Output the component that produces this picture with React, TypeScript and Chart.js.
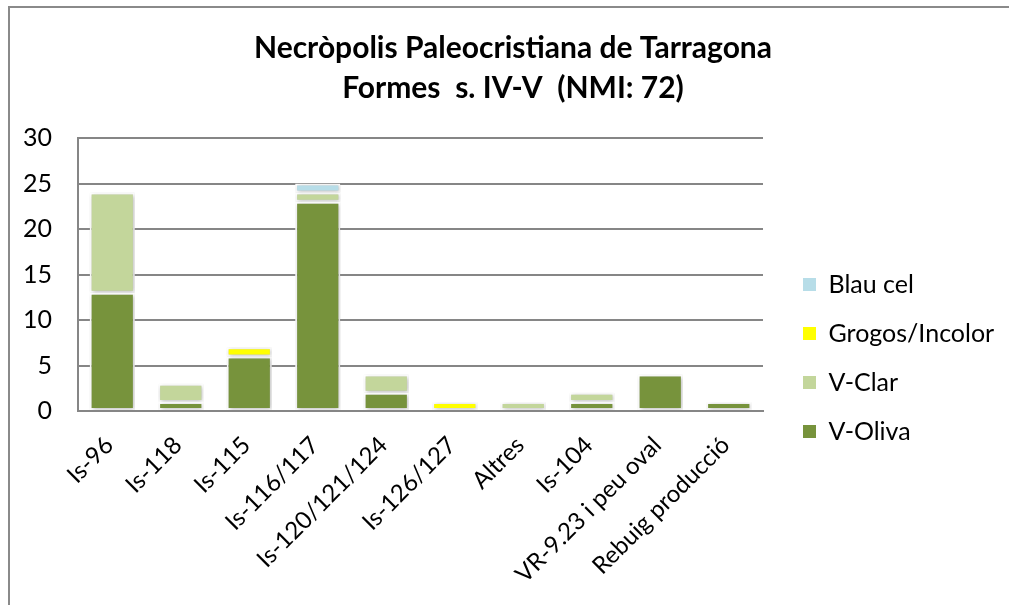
import React, { useEffect, useRef } from 'react';
import { Chart, registerables } from 'chart.js';

Chart.register(...registerables);

const categories = [
  'Is-96',
  'Is-118',
  'Is-115',
  'Is-116/117',
  'Is-120/121/124',
  'Is-126/127',
  'Altres',
  'Is-104',
  'VR-9.23 i peu oval',
  'Rebuig producció',
];
const vOliva = [13, 1, 6, 23, 2, 0, 0, 1, 4, 1];
const vClar = [11, 2, 0, 1, 2, 0, 1, 1, 0, 0];
const grogos = [0, 0, 1, 0, 0, 1, 0, 0, 0, 0];
const blauCel = [0, 0, 0, 1, 0, 0, 0, 0, 0, 0];
const seriesNames = ['V-Oliva', 'V-Clar', 'Grogos/Incolor', 'Blau cel'];
const yMin = 0;
const yMax = 30;
const yStep = 5;
const titleLines = ['Necròpolis Paleocristiana de Tarragona', 'Formes  s. IV-V  (NMI: 72)'];

const FONT = 'Lato, "Open Sans", sans-serif';
const W = 1009;
const H = 605;
const PLOT_LEFT = 78;
const PLOT_RIGHT = 763;
const PAD_LEFT = 16;
const TITLE_CENTER = 513;
const LEG_PAD = 24;
const LEG_BOX = 13;
const LEG_FONT = 25;
const LEG_GAP = 19;

const shadowPlugin = {
  id: 'barShadow',
  beforeDatasetDraw(chart: any) {
    const ctx = chart.ctx;
    ctx.save();
    ctx.shadowColor = 'rgba(0,0,0,0.28)';
    ctx.shadowBlur = 4;
    ctx.shadowOffsetX = 1;
    ctx.shadowOffsetY = 1;
  },
  afterDatasetDraw(chart: any) {
    chart.ctx.restore();
  },
};

const boxShiftPlugin = {
  id: 'boxShift',
  afterLayout(chart: any) {
    const lg = chart.legend;
    if (lg) {
      lg.left += LEG_GAP - 3;
      lg.right += LEG_GAP - 3;
    }
    const t = chart.titleBlock;
    if (t) {
      const dx = TITLE_CENTER - (t.left + t.right) / 2;
      t.left += dx;
      t.right += dx;
    }
  },
};

export default function App() {
  const canvasRef = useRef<HTMLCanvasElement | null>(null);

  useEffect(() => {
    document.body.style.margin = '0';
    const canvas = canvasRef.current;
    if (!canvas) return;
    Chart.defaults.font.family = FONT;
    Chart.defaults.color = '#000';

    const mctx = canvas.getContext('2d') as CanvasRenderingContext2D;
    mctx.font = `${LEG_FONT}px ${FONT}`;
    const tw = Math.max(...seriesNames.map((t) => mctx.measureText(t).width));
    const legendW = LEG_PAD + LEG_BOX + LEG_FONT / 2 + tw + 10;
    const padR = Math.max(0, W - PLOT_RIGHT - legendW);

    const colors = ['#77933C', '#C3D69B', '#FFFF00', '#B7DDE8'];
    const values = [vOliva, vClar, grogos, blauCel];

    const chart = new Chart(canvas, {
      type: 'bar',
      data: {
        labels: categories,
        datasets: seriesNames.map((name, i) => ({
          label: name,
          data: values[i],
          backgroundColor: colors[i],
          borderColor: '#ffffff',
          borderWidth: 2,
          borderSkipped: false,
          barPercentage: 0.66,
          categoryPercentage: 1,
        })),
      },
      options: {
        responsive: false,
        animation: false,
        events: [],
        layout: { padding: { left: PAD_LEFT, right: padR, top: 0, bottom: 0 } },
        plugins: {
          tooltip: { enabled: false },
          title: {
            display: true,
            text: titleLines,
            color: '#000',
            font: { family: FONT, size: 30, weight: 'bold', lineHeight: '40px' },
            padding: { top: 28, bottom: 30 },
          },
          legend: {
            display: true,
            position: 'right',
            align: 'start',
            reverse: true,
            fullSize: true,
            title: {
              display: true,
              text: '',
              font: { size: 1, lineHeight: '1px' },
              padding: { top: 247, bottom: 0 },
            },
            labels: {
              boxWidth: LEG_BOX,
              boxHeight: LEG_BOX,
              padding: LEG_PAD,
              color: '#000',
              font: { family: FONT, size: LEG_FONT },
              generateLabels: (c: any) =>
                Chart.defaults.plugins.legend.labels
                  .generateLabels(c)
                  .map((l: any) => ({ ...l, lineWidth: 0, strokeStyle: 'rgba(0,0,0,0)' })),
            },
          },
        },
        scales: {
          x: {
            stacked: true,
            grid: { display: false },
            border: { display: true, color: '#868686', width: 2 },
            ticks: {
              autoSkip: false,
              maxRotation: 45,
              minRotation: 45,
              padding: 12,
              labelOffset: -3,
              color: '#000',
              font: { family: FONT, size: 24 },
            },
            afterFit: (s: any) => {
              s.height = 194;
            },
          },
          y: {
            stacked: true,
            min: yMin,
            max: yMax,
            ticks: {
              stepSize: yStep,
              padding: 26,
              color: '#000',
              font: { family: FONT, size: 25 },
            },
            grid: { color: '#868686', lineWidth: 2, drawTicks: false },
            border: { display: true, color: '#868686', width: 2 },
            afterFit: (s: any) => {
              s.width = PLOT_LEFT - PAD_LEFT;
            },
          },
        },
      },
      plugins: [shadowPlugin, boxShiftPlugin],
    } as any);

    return () => chart.destroy();
  }, []);

  return (
    <div style={{ position: 'relative', width: W, height: H, overflow: 'hidden', background: '#fff' }}>
      <canvas ref={canvasRef} width={W} height={H} style={{ display: 'block' }} />
      <div
        style={{
          position: 'absolute',
          left: 8,
          top: 6,
          width: 1100,
          height: 700,
          borderLeft: '2px solid #8a8a8a',
          borderTop: '2px solid #8a8a8a',
          pointerEvents: 'none',
        }}
      />
    </div>
  );
}
